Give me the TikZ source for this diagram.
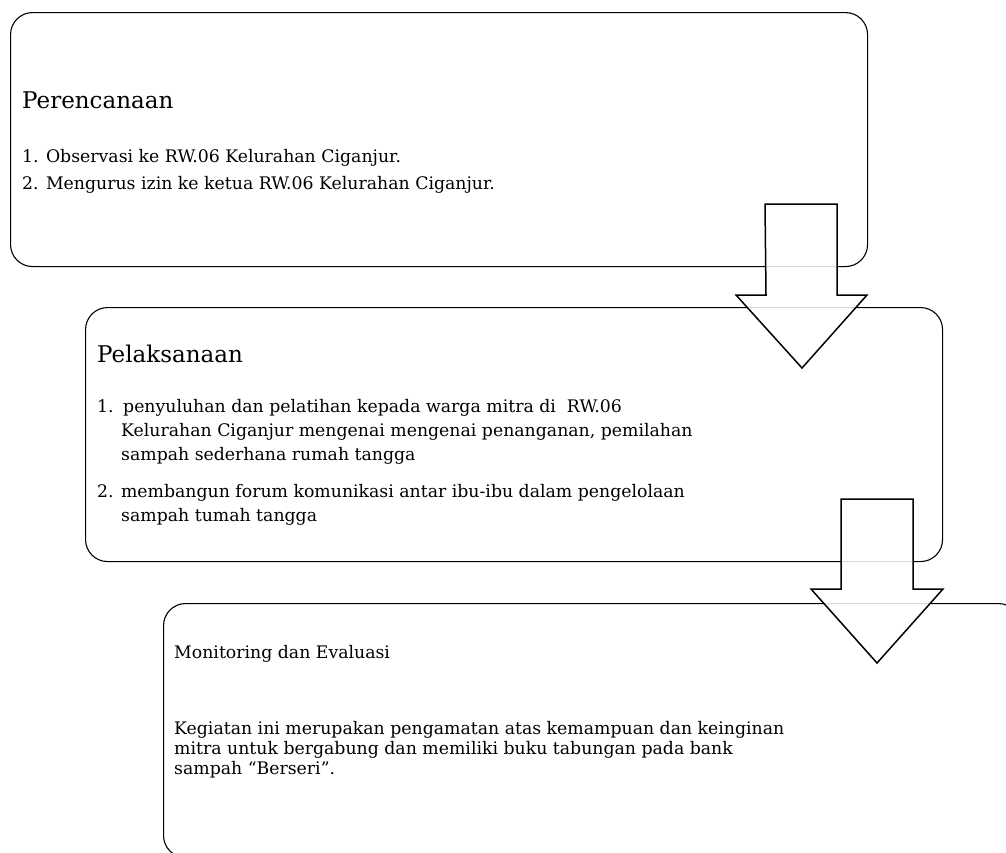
\documentclass[tikz,border=0pt]{standalone}
\usepackage{fontspec}
\setmainfont{DejaVu Serif}
\begin{document}
\begin{tikzpicture}[x=1pt,y=-1pt]
\tikzset{
  box/.style={draw=black, line width=1.1pt, rounded corners=22pt, fill=white,
    minimum width=857pt, minimum height=254pt, inner sep=0pt, anchor=north west},
  blockarrow/.style={draw=black, line width=1.5pt, fill=white, fill opacity=0.85, line join=miter},
  ttl/.style={anchor=base west, inner sep=0pt, font=\fontsize{23}{28}\selectfont},
  txt/.style={anchor=base west, inner sep=0pt, font=\fontsize{17.3}{20}\selectfont},
}
\useasboundingbox (0,0) rectangle (1006,852);
\clip (0,0) rectangle (1006,852);
\fill[white] (0,0) rectangle (1006,852);

% boxes
\node[box] (plan) at (10,12) {};
\node[box] (exec) at (85,307) {};
\node[box] (eval) at (163,603) {};

% block arrows
\coordinate (a1) at (801,204);
\draw[blockarrow] (a1) ++(-36,0) -- ++(72,0) -- ++(0,91) -- ++(30,0) -- ++(-65,73) -- ++(-66,-73) -- ++(30,0) -- cycle;
\coordinate (a2) at (877,499);
\draw[blockarrow] (a2) ++(-36,0) -- ++(72,0) -- ++(0,90) -- ++(30,0) -- ++(-66,74) -- ++(-66,-74) -- ++(30,0) -- cycle;

% texts of box 1
\node[ttl] (t1) at (22,108) {Perencanaan};
\node[txt] (t1a) at (22,162) {1. Observasi ke RW.06 Kelurahan Ciganjur.};
\node[txt] (t1b) at (22,189) {2. Mengurus izin ke ketua RW.06 Kelurahan Ciganjur.};

% texts of box 2
\node[ttl] (t2) at (97,362) {Pelaksanaan};
\node[txt] (t2a) at (97,412) {\makebox[26pt][l]{1.}penyuluhan dan pelatihan kepada warga mitra di\ \ RW.06};
\node[txt] (t2b) at (121,436) {Kelurahan Ciganjur mengenai mengenai penanganan, pemilahan};
\node[txt] (t2c) at (121,460) {sampah sederhana rumah tangga};
\node[txt] (t2d) at (97,497) {2. membangun forum komunikasi antar ibu-ibu dalam pengelolaan};
\node[txt] (t2e) at (121,521) {sampah tumah tangga};

% texts of box 3
\node[txt] (t3) at (174,658) {Monitoring dan Evaluasi};
\node[txt] (t3a) at (174,734) {Kegiatan ini merupakan pengamatan atas kemampuan dan keinginan};
\node[txt] (t3b) at (174,754) {mitra untuk bergabung dan memiliki buku tabungan pada bank};
\node[txt] (t3c) at (174,774) {sampah “Berseri”.};
\end{tikzpicture}
\end{document}
